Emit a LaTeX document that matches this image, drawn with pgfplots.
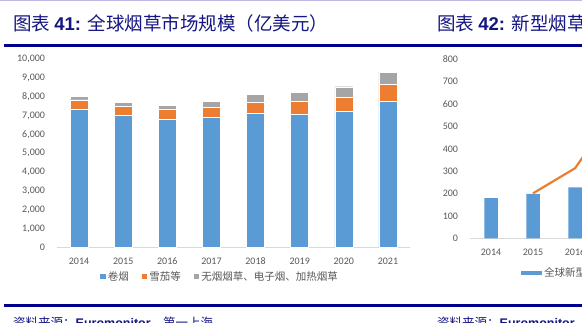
\documentclass[border=0pt]{standalone}
\usepackage{fontspec}
\setmainfont{Carlito}
\newfontfamily\cjk{Noto Sans CJK SC}
\newfontfamily\arial{Liberation Sans}
\usepackage{pgfplots}
\pgfplotsset{compat=1.18}
\definecolor{cBlue}{RGB}{91,155,213}
\definecolor{cOrange}{RGB}{237,125,49}
\definecolor{cGray}{RGB}{165,165,165}
\definecolor{navy}{RGB}{0,0,140}
\definecolor{titleblue}{RGB}{20,20,130}
\definecolor{txt}{RGB}{89,89,89}
\definecolor{axisgray}{RGB}{217,217,217}
\definecolor{lav}{RGB}{185,185,228}

\begin{document}
\begin{tikzpicture}[x=1pt,y=1pt]
\useasboundingbox (0,0) rectangle (582,323);
\clip (0,0) rectangle (582,323);
\fill[white] (0,0) rectangle (582,323);
\draw[lav, line width=1pt] (0,322.5) -- (582,322.5);
\draw[navy, line width=3pt] (4,277.5) -- (582,277.5);
\draw[navy, line width=2.5pt] (4,17.5) -- (582,17.5);
\node[anchor=west, inner sep=0, text=titleblue] at (13,299.3) {\fontsize{18.5}{20}\selectfont\cjk 图表 \arial\bfseries 41: \cjk\mdseries 全球烟草市场规模（亿美元）};
\node[anchor=west, inner sep=0, text=titleblue] at (437,299.3) {\fontsize{18.5}{20}\selectfont\cjk 图表 \arial\bfseries 42: \cjk\mdseries 新型烟草市场规模（亿美元）};
\node[anchor=west, inner sep=0, text=titleblue] at (13,0.5) {\fontsize{12.5}{14}\selectfont\cjk 资料来源：\arial\bfseries Euromonitor\cjk\mdseries ，第一上海};
\node[anchor=west, inner sep=0, text=titleblue] at (437,0.5) {\fontsize{12.5}{14}\selectfont\cjk 资料来源：\arial\bfseries Euromonitor\cjk\mdseries ，第一上海};

\begin{axis}[
  at={(57pt,75.7pt)}, anchor=south west,
  scale only axis, width=353pt, height=188pt,
  xmin=-0.5, xmax=7.5, ymin=0, ymax=10000,
  ybar stacked, bar width=18pt,
  axis x line*=bottom, axis y line*=left,
  x axis line style={draw=axisgray, line width=1pt, -},
  y axis line style={draw=none},
  xtick={0,1,2,3,4,5,6,7},
  xticklabels={2014,2015,2016,2017,2018,2019,2020,2021},
  ytick={0,1000,2000,3000,4000,5000,6000,7000,8000,9000,10000},
  major tick length=0pt,
  scaled y ticks=false,
  tick label style={font=\fontsize{10}{12}\selectfont, text=txt},
  yticklabel style={xshift=-8.5pt, /pgf/number format/1000 sep={,}, /pgf/number format/assume math mode=true},
  xticklabel style={yshift=-7pt},
  legend style={at={(0.4618,-0.1564)}, anchor=center, draw=none, fill=none,
    font=\cjk\fontsize{10.5}{12}\selectfont, text=txt},
  legend columns=-1,
  /tikz/every even column/.append style={column sep=11pt},
  legend image code/.code={\fill[#1, draw=none] (0pt,-2.75pt) rectangle (5.5pt,2.75pt);},
]
\addplot[fill=cBlue, draw=white, line width=0.4pt] coordinates {(0,7340) (1,7020) (2,6820) (3,6930) (4,7130) (5,7070) (6,7230) (7,7770)};
\addplot[fill=cOrange, draw=white, line width=0.4pt] coordinates {(0,510) (1,460) (2,500) (3,520) (4,600) (5,680) (6,750) (7,880)};
\addplot[fill=cGray, draw=white, line width=0.4pt] coordinates {(0,180) (1,230) (2,230) (3,300) (4,420) (5,490) (6,560) (7,670)};
\legend{卷烟,雪茄等,无烟烟草、电子烟、加热烟草}
\end{axis}

\begin{axis}[
  at={(470pt,84.7pt)}, anchor=south west,
  scale only axis, width=336pt, height=179pt,
  xmin=-0.5, xmax=7.5, ymin=0, ymax=800,
  axis x line*=bottom, axis y line*=left,
  x axis line style={draw=axisgray, line width=1pt, -},
  y axis line style={draw=none},
  xtick={0,1,2,3,4,5,6,7},
  xticklabels={2014,2015,2016,2017,2018,2019,2020,2021},
  ytick={0,100,200,300,400,500,600,700,800},
  major tick length=0pt,
  tick label style={font=\fontsize{10}{12}\selectfont, text=txt},
  yticklabel style={xshift=-8.5pt, /pgf/number format/assume math mode=true},
  xticklabel style={yshift=-7pt},
  legend style={at={(0.1518,-0.1939)}, anchor=west, draw=none, fill=none, inner xsep=0pt,
    font=\cjk\fontsize{10.5}{12}\selectfont, text=txt},
  legend columns=-1,
]
\addplot[ybar, bar width=13.5pt, fill=cBlue, draw=none,
  legend image code/.code={\fill[cBlue] (0pt,-2pt) rectangle (21pt,2pt);}] coordinates {(0,179) (1,198) (2,228)};
\addplot[cOrange, line width=2.2pt, mark=none] coordinates {(1,201) (2,313) (3,580)};
\legend{全球新型烟草市场规模（亿美元）,同比增速}
\end{axis}
\end{tikzpicture}
\end{document}
